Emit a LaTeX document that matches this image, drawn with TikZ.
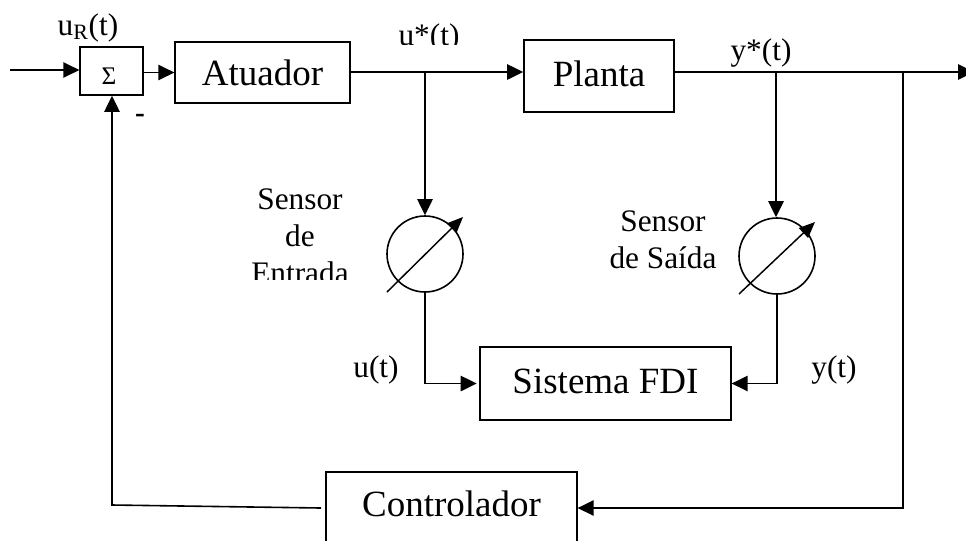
\documentclass[tikz,border=0pt]{standalone}
\usepackage{fontspec}
\setmainfont{Liberation Serif}
\usetikzlibrary{arrows.meta}
\begin{document}
\begin{tikzpicture}[
        x=0.75pt,
        y=-0.75pt,
        >={Triangle[length=12pt,width=11.5pt]},
        line width=1.2pt,
        block/.style={
          draw,
          inner sep=0pt,
          font=\fontsize{27.75}{33}\selectfont
        },
        signal/.style={
          anchor=base,
          inner sep=0pt,
          font=\fontsize{23.5}{27.75}\selectfont
        },
        sensor/.style={
          draw,
          circle,
          minimum size=57pt,
          inner sep=0pt
        },
        gauge/.style={
          ->,
          line width=1.1pt,
          >={Triangle[length=12pt,width=10pt]}
        }
      ]
        \useasboundingbox (0,0) rectangle (966,540);

        \node[draw,inner sep=0pt,minimum width=47pt,minimum height=36pt] (sum) at (111.5,71) {};
        \node[inner sep=0pt,font=\fontsize{19}{19}\selectfont] (sigma) at (109,76) {Σ};
        \node[block,minimum width=131pt,minimum height=46pt] (atuador) at (262.5,72.5) {Atuador};
        \node[block,text depth=3pt,minimum width=112.5pt,minimum height=54pt] (planta) at (599,76) {Planta};
        \node[block,text depth=3pt,minimum width=188pt,minimum height=55pt] (fdi) at (605.5,383.5) {Sistema FDI};
        \node[block,text depth=9pt,minimum width=188pt,minimum height=57pt] (controlador) at (451.5,510) {Controlador};

        \node[sensor] (sensorE) at (425,254) {};
        \node[sensor] (sensorS) at (777,256) {};

        \coordinate (in) at (10,70);
        \coordinate (ubranch) at (425,72);
        \coordinate (ybranch) at (776,72);
        \coordinate (fbbranch) at (903,72);
        \coordinate (out) at (974,72);
        \coordinate (fbstart) at (321,508);
        \coordinate (fbcorner) at (112,505);

        % labels
        \node[signal] (ur) at (88,35) {u\textsubscript{R}(t)};
        \node[signal] (ystar) at (761,60) {y*(t)};
        \node[signal] (u) at (376,377) {u(t)};
        \node[signal] (y) at (834,377) {y(t)};
        \node[signal,font=\bfseries\fontsize{22}{22}\selectfont] (minus) at (140,122) {-};
        \begin{scope}
          \clip (380,10) rectangle (480,44);
          \node[signal] (ustar) at (429,45) {u*(t)};
        \end{scope}
        \begin{scope}
          \clip (240,170) rectangle (360,279);
          \node[signal,anchor=north,align=center] (txtE) at (300,188) {Sensor\\de\\Entrada};
        \end{scope}
        \node[signal,anchor=north,align=center] (txtS) at (663,210) {Sensor\\de Saída};

        \draw[->] (in) -- (sum.west |- in);
        \draw[->] (sum.east |- atuador) -- (atuador.west);
        \draw (atuador.east |- ubranch) -- (ubranch);
        \draw[->] (ubranch) -- (planta.west |- ubranch);
        \draw[->] (planta.east |- ubranch) -- (out);
        \draw[->] (ubranch) -- (sensorE.north);
        \draw[->] (ybranch) -- (ybranch |- sensorS.north);
        \draw[gauge] ([shift={(-38,38)}]sensorE.center) -- ([shift={(38,-37)}]sensorE.center);
        \draw[gauge] ([shift={(-38,38)}]sensorS.center) -- ([shift={(38,-34)}]sensorS.center);
        \draw[->,shorten >=2pt] (sensorE.south) |- (fdi.west);
        \draw[->] (sensorS.south) |- (fdi.east);
        \draw[->] (fbbranch) |- (controlador.east |- fbstart);
        \draw[->] (fbstart) -- (fbcorner) -- (fbcorner |- sum.south);
      \end{tikzpicture}
\end{document}
